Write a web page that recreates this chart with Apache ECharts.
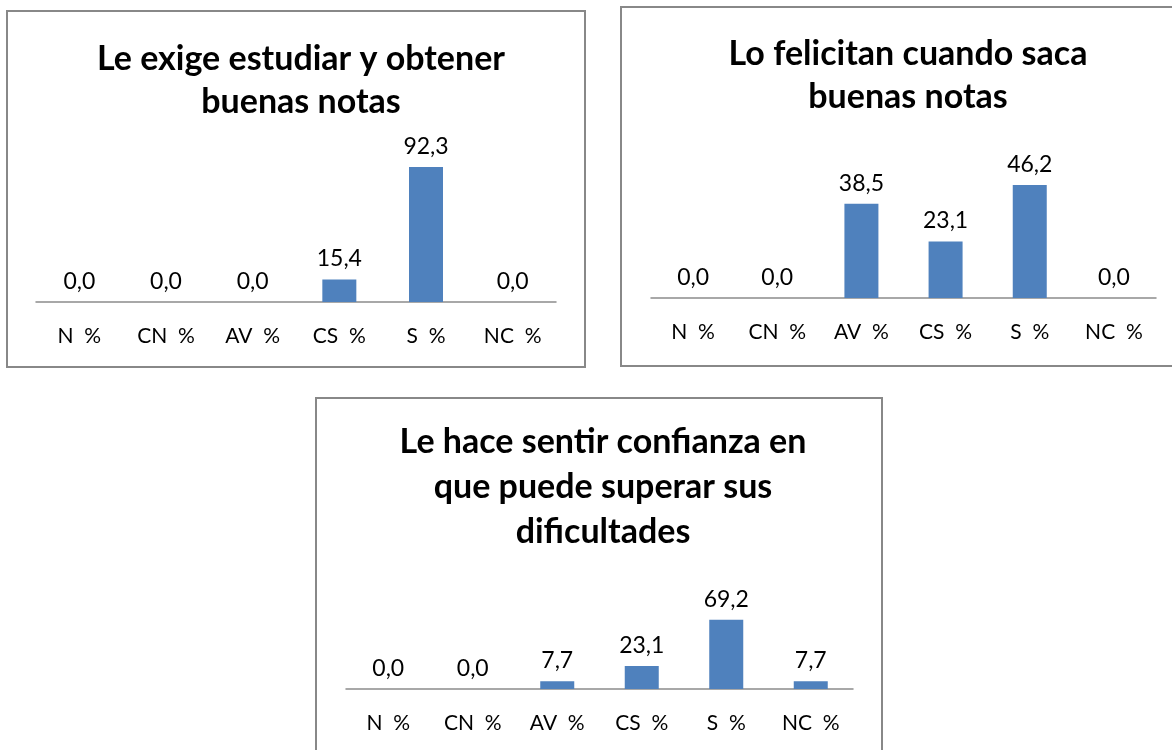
<!DOCTYPE html>
<html>
<head>
<meta charset="utf-8">
<script src="https://cdn.jsdelivr.net/npm/echarts@6/dist/echarts.min.js"></script>
<style>
  html, body { margin: 0; padding: 0; background: #fff; }
  #chart_con { width: 1172px; height: 750px; }
</style>
</head>
<body>
<div id="chart_con"></div>
<script>
// categorias y valores (%)
const categories = ['N  %', 'CN  %', 'AV  %', 'CS  %', 'S  %', 'NC  %'];
const exigeData = [0.0, 0.0, 0.0, 15.4, 92.3, 0.0];
const felicitanData = [0.0, 0.0, 38.5, 23.1, 46.2, 0.0];
const confianzaData = [0.0, 0.0, 7.7, 23.1, 69.2, 7.7];
const titles = [
    'Le exige estudiar y obtener\nbuenas notas',
    'Lo felicitan cuando saca\nbuenas notas',
    'Le hace sentir confianza en\nque puede superar sus\ndificultades'
];

const FONT = 'Lato';
const barColor = '#4f81bd';
const axisGrey = '#8c8c8c';

function fmt(p) {
    return p.value.toFixed(1).replace('.', ',');
}

function xAxisFor(idx) {
    return {
        type: 'category',
        gridIndex: idx,
        data: categories,
        axisTick: { show: false },
        axisLine: { lineStyle: { color: axisGrey, width: 1.5 } },
        axisLabel: { color: '#000', fontFamily: FONT, fontSize: 21, margin: 24 }
    };
}
function yAxisFor(idx, max) {
    return {
        type: 'value',
        gridIndex: idx,
        min: 0,
        max: max,
        show: false,
        splitLine: { show: false }
    };
}
function seriesFor(idx, data) {
    return {
        type: 'bar',
        xAxisIndex: idx,
        yAxisIndex: idx,
        data: data,
        barWidth: 34,
        itemStyle: { color: barColor },
        label: {
            show: true,
            position: 'top',
            distance: 9,
            color: '#000',
            fontFamily: FONT,
            fontSize: 23,
            formatter: fmt
        }
    };
}
function titleFor(text, x, y, lh) {
    return {
        text: text,
        left: x,
        top: y,
        textAlign: 'center',
        textStyle: { fontFamily: FONT, fontSize: 34, fontWeight: 'bold', color: '#000', lineHeight: lh }
    };
}
function boxFor(x, y, w, h) {
    return {
        type: 'rect',
        shape: { x: x, y: y, width: w, height: h },
        style: { fill: null, stroke: '#888', lineWidth: 2 },
        z: -1
    };
}

const option = {
    animation: false,
    title: [
        titleFor(titles[0], 296, 33, 43),
        titleFor(titles[1], 903, 28, 43),
        titleFor(titles[2], 598, 415, 45)
    ],
    graphic: [
        boxFor(7, 11, 578, 356),
        boxFor(621, 7, 560, 359),
        boxFor(316, 398, 566, 360)
    ],
    grid: [
        { left: 36, width: 520, top: 155.7, height: 146.3 },
        { left: 651, width: 505, top: 175.7, height: 122.3 },
        { left: 346, width: 507, top: 609, height: 80 }
    ],
    xAxis: [xAxisFor(0), xAxisFor(1), xAxisFor(2)],
    yAxis: [yAxisFor(0, 100), yAxisFor(1, 50), yAxisFor(2, 80)],
    series: [
        seriesFor(0, exigeData),
        seriesFor(1, felicitanData),
        seriesFor(2, confianzaData)
    ]
};

const chart = echarts.init(document.getElementById('chart_con'));
chart.setOption(option);
</script>
</body>
</html>
